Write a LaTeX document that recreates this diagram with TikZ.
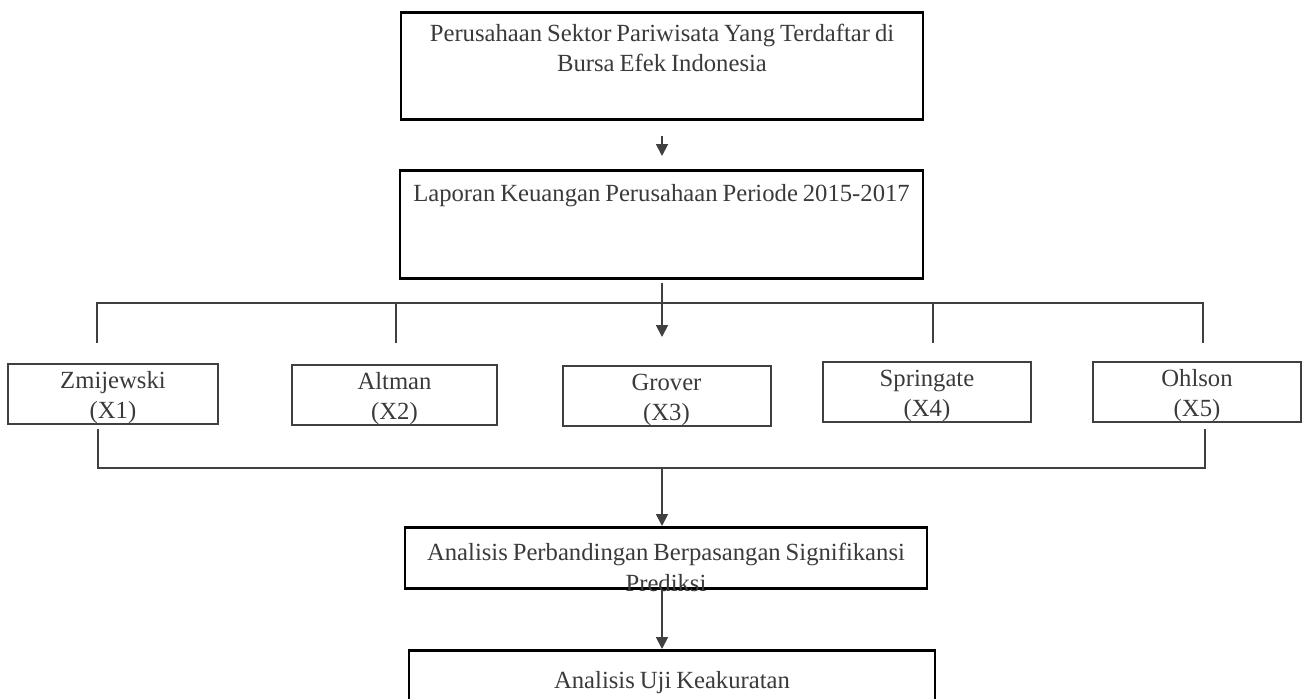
\documentclass[tikz,border=0pt]{standalone}
\usepackage{fontspec}
\setmainfont{Liberation Serif}
\usetikzlibrary{arrows.meta, positioning, calc}
\definecolor{flowgray}{RGB}{64, 64, 64}
\definecolor{flowtext}{RGB}{58, 58, 58}
\tikzset{
  flowtext/.style={align=center, text=flowtext, font=\fontsize{18.5pt}{23pt}\selectfont,
                   execute at begin node={\spaceskip=0.2em\relax}},
  bigbox/.style={rectangle, draw=black, line width=2pt, inner sep=0pt, anchor=north,
                 text width=#1, flowtext},
  bigbox/.default=391.5pt,
  modelbox/.style={rectangle, draw=flowgray, line width=1.5pt, inner sep=0pt, anchor=north,
                   text width=#1, text height=18pt, text depth=27pt, flowtext},
  modelbox/.default=156pt,
  link/.style={draw=flowgray, line width=1.4pt},
  arrow/.style={link, -{Triangle[width=9pt, length=9pt]}},
}
\begin{document}
\begin{tikzpicture}[x=0.75pt, y=-0.75pt]
  \clip (0,0) rectangle (1309,699);
  % top of the flow
  \node[bigbox, text height=21.75pt, text depth=58.5pt] (sektor) at (662,11)
       {Perusahaan Sektor Pariwisata Yang Terdaftar di\\Bursa Efek Indonesia};
  \node[bigbox=392.25pt, text height=23.25pt, text depth=57.75pt] (laporan) at (661.5,169)
       {Laporan Keuangan Perusahaan Periode 2015-2017};
  % the five models
  \node[modelbox=157.5pt] (zmij) at (113,363) {Zmijewski\\(X1)};
  \node[modelbox=153.75pt] (altman) at (394.5,364) {Altman\\(X2)};
  \node[modelbox] (grover) at (666.5,365) {Grover\\(X3)};
  \node[modelbox] (spring) at (927,361) {Springate\\(X4)};
  \node[modelbox] (ohlson) at (1197,361) {Ohlson\\(X5)};
  % analysis
  \node[bigbox, text height=24.75pt, text depth=21pt] (banding) at (666,526)
       {Analisis Perbandingan Berpasangan Signifikansi\\Prediksi};
  \node[bigbox=394.5pt, text height=28.5pt, text depth=21pt] (uji) at (672,649)
       {Analisis Uji Keakuratan};

  \coordinate (axis) at (662,0);
  \coordinate (fork) at (662,303);
  \coordinate (forkL) at (97,343);
  \coordinate (forkR) at (1203,343);
  \coordinate (tapA) at (396,343);
  \coordinate (tapS) at (933,343);
  \coordinate (join) at (662,468);
  \coordinate (joinL) at (98,429);
  \coordinate (joinR) at (1205,429);

  % brackets
  \draw[link] (forkL) |- (fork) -| (forkR);
  \draw[link] (tapA) -- (tapA |- fork);
  \draw[link] (tapS) -- (tapS |- fork);
  \draw[link] (joinL) |- (join) -| (joinR);

  % arrows
  \draw[arrow, shorten <=11.25pt, shorten >=9.75pt] (sektor.south -| axis) -- (laporan.north -| axis);
  \draw[arrow, shorten <=2.25pt, shorten >=21pt] (laporan.south -| axis) -- (grover.north -| axis);
  \draw[arrow] (join) -- (banding.north -| axis);
  \draw[arrow] (banding.south -| axis) -- (uji.north -| axis);
\end{tikzpicture}
\end{document}
